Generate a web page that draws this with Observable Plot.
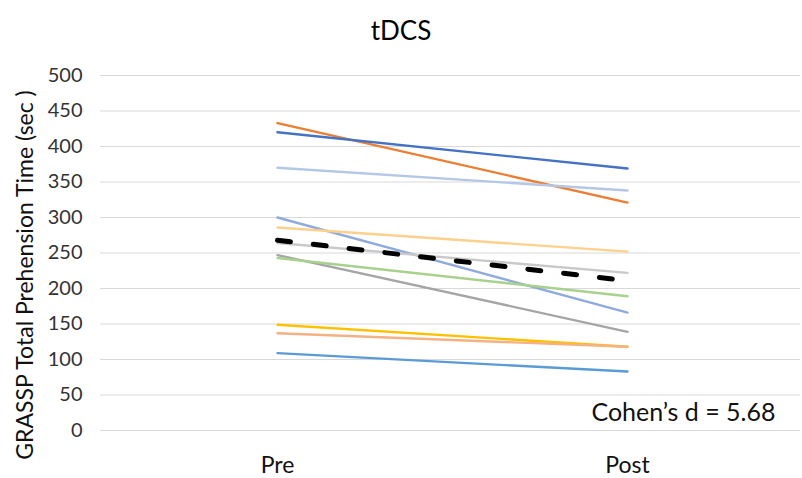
<!DOCTYPE html>
<html>
<head>
<meta charset="utf-8">
<script src="https://cdn.jsdelivr.net/npm/d3@7"></script>
<script src="https://cdn.jsdelivr.net/npm/@observablehq/plot@0.6"></script>
<style>
  body { margin: 0; background: #fff; font-family: Lato, "Open Sans", sans-serif; }
  #title { width: 802px; height: 55px; text-align: center; font-size: 26px; line-height: 26px; padding-top: 17px; box-sizing: border-box; color: #000; }
  #chart svg { display: block; }
</style>
</head>
<body>
<div id="title">tDCS</div>
<div id="chart"></div>
<script>
const categories = ["Pre", "Post"];
const preValues  = [433, 420, 370, 300, 286, 264, 247, 243, 149, 137, 109];
const postValues = [321, 369, 338, 166, 252, 222, 139, 189, 118, 118, 83];
const seriesColors = ["#ED7D31", "#4472C4", "#B4C7E7", "#8FAADC", "#FFD08C", "#C9C9C9", "#A5A5A5", "#A9D18E", "#FFC000", "#F4B183", "#5B9BD5"];
const meanValues = [268, 211];
const yTicks = [0, 50, 100, 150, 200, 250, 300, 350, 400, 450, 500];
const yLabel = "GRASSP Total Prehension Time (sec )";
const effectLabel = "Cohen\u2019s d = 5.68";

const rows = [];
preValues.forEach((v, i) => {
  rows.push({id: i, phase: categories[0], value: v});
  rows.push({id: i, phase: categories[1], value: postValues[i]});
});
const meanRows = categories.map((c, i) => ({phase: c, value: meanValues[i]}));

const chart = Plot.plot({
  width: 802,
  height: 423,
  marginTop: 20,
  marginBottom: 48,
  marginLeft: 100,
  marginRight: 2,
  style: {fontFamily: "Lato, 'Open Sans', sans-serif", color: "#000"},
  x: {type: "point", domain: categories, range: [277, 627], padding: 0},
  y: {domain: [0, 500]},
  color: {type: "ordinal", domain: d3.range(preValues.length), range: seriesColors},
  marks: [
    Plot.ruleY(yTicks, {stroke: "#d9d9d9", strokeWidth: 1.2}),
    Plot.axisY({ticks: yTicks, tickSize: 0, tickPadding: 18, label: null, fontSize: 20, fill: "#333"}),
    Plot.axisX({tickSize: 0, tickPadding: 26, label: null, fontSize: 23, fill: "#111"}),
    Plot.line(rows, {x: "phase", y: "value", z: "id", stroke: "id", strokeWidth: 2.4}),
    Plot.line(meanRows, {x: "phase", y: "value", stroke: "#000", strokeWidth: 5, strokeDasharray: "13,23", strokeLinecap: "round"}),
    Plot.text([yLabel], {frameAnchor: "left", dx: -75, dy: 22, rotate: -90, fontSize: 23, fill: "#111", textAnchor: "middle", lineAnchor: "middle"}),
    Plot.text([effectLabel], {frameAnchor: "bottom-right", dx: -25, dy: -18, fontSize: 25, fill: "#111", textAnchor: "end", lineAnchor: "middle"})
  ]
});
document.getElementById("chart").appendChild(chart);
</script>
</body>
</html>
